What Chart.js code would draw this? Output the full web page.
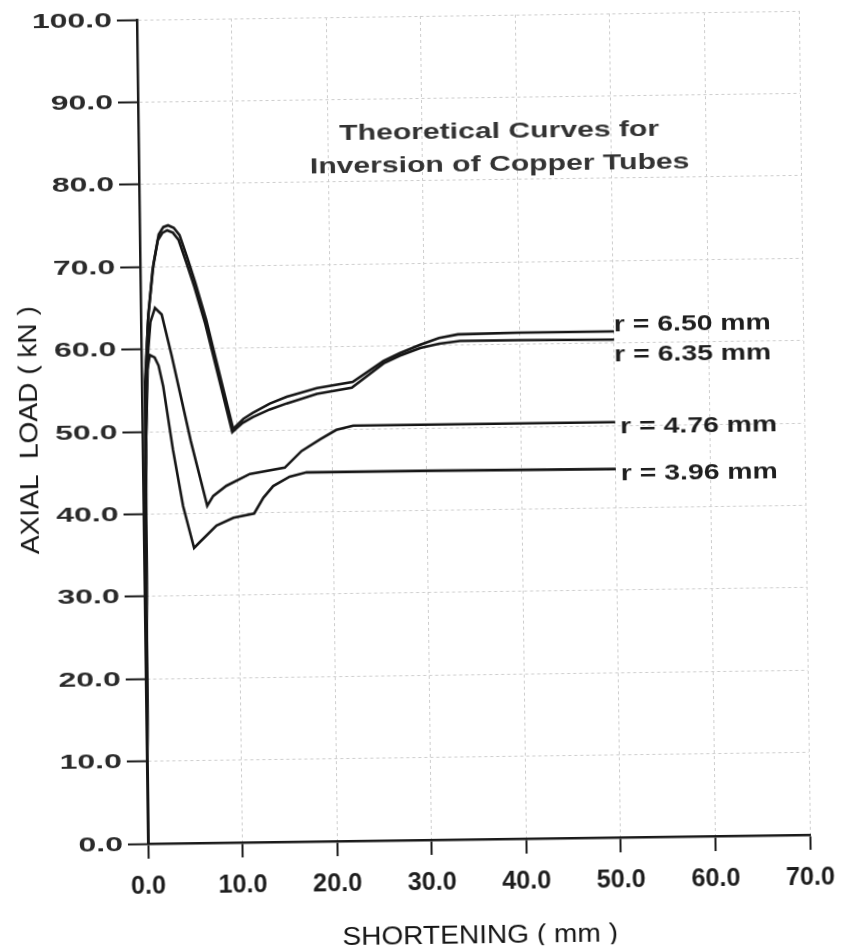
<!DOCTYPE html>
<html>
<head>
<meta charset="utf-8">
<title>Inversion of Copper Tubes</title>
<script src="https://cdn.jsdelivr.net/npm/chart.js@4.4.1/dist/chart.umd.min.js"></script>
<style>
  html, body { margin: 0; padding: 0; background: #fff; overflow: hidden; }
  #wrap { width: 841px; height: 947px; transform: rotate(-0.77deg); }
</style>
</head>
<body>
<div id="wrap"><canvas id="loadChart" width="841" height="947"></canvas></div>
<script>
// axis ticks
const xTicks = [0, 10, 20, 30, 40, 50, 60, 70];
const yTicks = [0, 10, 20, 30, 40, 50, 60, 70, 80, 90, 100];

// shortening (mm) / axial load (kN) for each roll radius
const r650X = [0, 0.35, 0.8, 1.4, 2.0, 2.5, 3.0, 3.6, 4.2, 5.0, 5.8, 6.9, 7.6, 9.6, 10.7, 11.7, 13.5, 15.3, 18.5, 22.3, 25.6, 27.3, 29.5, 31.5, 33.5, 40.0, 50.0];
const r650Y = [0, 56.0, 64.3, 70.3, 73.9, 74.8, 75.0, 74.7, 73.8, 71.0, 68.0, 63.5, 60.0, 50.2, 51.4, 52.1, 53.2, 54.0, 55.0, 55.7, 58.2, 59.1, 60.1, 60.9, 61.3, 61.4, 61.4];

const r635X = [0, 0.35, 0.75, 1.3, 1.9, 2.4, 2.9, 3.5, 4.1, 4.9, 5.7, 6.8, 7.5, 9.5, 10.6, 11.7, 13.5, 15.3, 18.5, 22.2, 25.6, 27.3, 29.5, 31.5, 33.7, 40.0, 50.0];
const r635Y = [0, 55.0, 63.5, 69.6, 73.2, 74.1, 74.4, 74.1, 73.2, 70.4, 67.5, 63.0, 59.6, 49.8, 50.9, 51.6, 52.5, 53.2, 54.3, 55.0, 57.9, 58.8, 59.7, 60.2, 60.5, 60.5, 60.4];

const r476X = [0, 0.35, 0.7, 1.0, 1.5, 2.2, 3.2, 5.1, 6.75, 7.4, 8.8, 11.3, 15.0, 16.8, 18.8, 20.5, 22.3, 35.0, 50.0];
const r476Y = [0, 48.0, 59.5, 63.3, 65.0, 64.2, 59.2, 48.8, 40.9, 42.1, 43.3, 44.7, 45.4, 47.4, 48.8, 49.9, 50.4, 50.4, 50.4];

const r396X = [0, 0.3, 0.55, 0.9, 1.4, 1.8, 2.26, 3.2, 4.2, 5.3, 5.9, 7.7, 9.5, 11.7, 12.7, 13.75, 15.5, 17.3, 30.0, 50.0];
const r396Y = [0, 45.0, 57.2, 59.3, 59.0, 58.0, 55.5, 47.8, 40.9, 35.8, 36.5, 38.5, 39.4, 39.9, 41.8, 43.2, 44.3, 44.8, 44.8, 44.7];

const seriesLabels = ['r = 6.50 mm', 'r = 6.35 mm', 'r = 4.76 mm', 'r = 3.96 mm'];

const toPoints = (xs, ys) => xs.map((x, i) => ({ x: x, y: ys[i] }));

// label offsets next to the end of each curve (px)
const labelShift = [
    { dx: 0, dy: -6 },
    { dx: 0, dy: 16 },
    { dx: 5, dy: 5 },
    { dx: 5, dy: 5 }
];

const FONT = '"Liberation Sans", Arial, sans-serif';

// draws text squeezed or widened horizontally
function wideText(ctx, text, x, y, font, sx, align, color, rotate) {
    ctx.save();
    ctx.font = font;
    ctx.fillStyle = color;
    ctx.textAlign = align;
    ctx.textBaseline = 'middle';
    ctx.translate(x, y);
    if (rotate) ctx.rotate(rotate);
    ctx.scale(sx, 1);
    ctx.fillText(text, 0, 0);
    ctx.restore();
}

const textPlugin = {
    id: 'chartText',
    afterDraw(chart) {
        const ctx = chart.ctx;
        const xs = chart.scales.x, ys = chart.scales.y;
        const area = chart.chartArea;

        // y tick labels
        ys.ticks.forEach(t => {
            wideText(ctx, t.value.toFixed(1), 118, ys.getPixelForValue(t.value) + 1,
                'bold 20px ' + FONT, 1.6, 'right', '#2a2a2a');
        });
        // x tick labels
        xs.ticks.forEach(t => {
            wideText(ctx, t.value.toFixed(1), xs.getPixelForValue(t.value), area.bottom + 43,
                'bold 26px ' + FONT, 0.97, 'center', '#1e1e1e');
        });

        // axis titles
        wideText(ctx, 'SHORTENING ( mm )', (area.left + area.right) / 2, 937,
            '26px ' + FONT, 1.08, 'center', '#151515');
        wideText(ctx, 'AXIAL  LOAD ( kN )', 31, 425,
            '26px ' + FONT, 1.08, 'center', '#151515', -Math.PI / 2);

        // chart title inside the plot
        const tx = area.left + 0.545 * (area.right - area.left);
        wideText(ctx, 'Theoretical Curves for', tx, 133, 'bold 22px ' + FONT, 1.37, 'center', '#333');
        wideText(ctx, 'Inversion of Copper Tubes', tx, 166, 'bold 22px ' + FONT, 1.37, 'center', '#333');

        // curve labels
        chart.data.datasets.forEach((ds, i) => {
            const last = ds.data[ds.data.length - 1];
            const px = xs.getPixelForValue(last.x) + labelShift[i].dx;
            const py = ys.getPixelForValue(last.y) + labelShift[i].dy;
            wideText(ctx, seriesLabels[i], px, py, 'bold 22px ' + FONT, 1.29, 'left', '#1e1e1e');
        });
    }
};

const lineStyle = { borderColor: '#161616', borderWidth: 2.6, pointRadius: 0, tension: 0, fill: false };

const ctx = document.getElementById('loadChart').getContext('2d');
new Chart(ctx, {
    type: 'line',
    data: {
        datasets: [
            { label: seriesLabels[0], data: toPoints(r650X, r650Y), ...lineStyle },
            { label: seriesLabels[1], data: toPoints(r635X, r635Y), ...lineStyle },
            { label: seriesLabels[2], data: toPoints(r476X, r476Y), ...lineStyle },
            { label: seriesLabels[3], data: toPoints(r396X, r396Y), ...lineStyle }
        ]
    },
    options: {
        responsive: false,
        animation: false,
        devicePixelRatio: 1,
        layout: { padding: { top: 16, right: 36, bottom: 0, left: 0 } },
        plugins: { legend: { display: false }, tooltip: { enabled: false } },
        scales: {
            x: {
                type: 'linear', min: 0, max: 70,
                afterBuildTicks: s => { s.ticks = xTicks.map(v => ({ value: v })); },
                afterFit: s => { s.height = 107; },
                ticks: { display: false },
                grid: { color: '#cdcdcd', lineWidth: 1, tickColor: '#1a1a1a', tickLength: 15, tickWidth: 2 },
                border: { color: '#1a1a1a', width: 2.5, dash: [3, 3] }
            },
            y: {
                type: 'linear', min: 0, max: 100,
                afterBuildTicks: s => { s.ticks = yTicks.map(v => ({ value: v })); },
                afterFit: s => { s.width = 143; },
                ticks: { display: false },
                grid: { color: '#cdcdcd', lineWidth: 1, tickColor: '#1a1a1a', tickLength: 20, tickWidth: 2 },
                border: { color: '#1a1a1a', width: 2.5, dash: [3, 3] }
            }
        }
    },
    plugins: [textPlugin]
});
</script>
</body>
</html>
